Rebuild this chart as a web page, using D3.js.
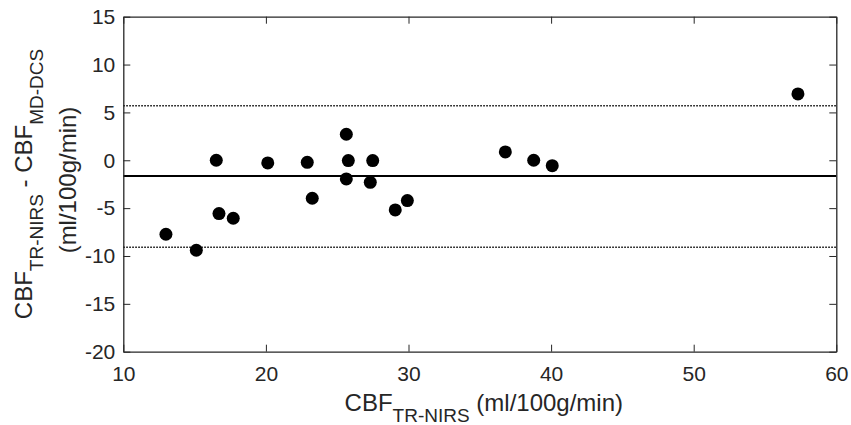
<!DOCTYPE html>
<html>
<head>
<meta charset="utf-8">
<script src="https://cdn.jsdelivr.net/npm/d3@7"></script>
<style>
  html, body { margin: 0; padding: 0; background: #fff; }
  svg { display: block; font-family: "Liberation Sans", Arial, Helvetica, sans-serif; }
</style>
</head>
<body>
<svg id="chart" width="851" height="425"></svg>
<script>
// Data
const cbfTR = [12.99, 15.12, 16.52, 16.71, 17.71, 20.13, 22.90, 23.25, 25.64, 25.78, 25.64, 27.49, 27.32, 29.07, 29.92, 36.79, 38.78, 40.08, 57.31];
const cbfDiff = [-7.73, -9.40, 0.0, -5.57, -6.06, -0.28, -0.21, -3.97, 2.72, -0.03, -1.95, -0.03, -2.30, -5.19, -4.21, 0.87, 0.0, -0.56, 6.93];
const meanDiff = [-1.65];
const limitsOfAgreement = [5.7, -9.1];
const xTicks = [10, 20, 30, 40, 50, 60];
const yTicks = [-20, -15, -10, -5, 0, 5, 10, 15];

const svg = d3.select("#chart");
const mLeft = 123.3, mRight = 836.3, mTop = 16.7, mBottom = 351.7;
const axisColor = "#262626";

const x = d3.scaleLinear().domain([10, 60]).range([mLeft, mRight]);
const y = d3.scaleLinear().domain([-20, 15]).range([mBottom, mTop]);

const tickLen = 7;
const fmt = d => String(d);

// Reference lines
svg.selectAll("line.loa").data(limitsOfAgreement).enter().append("line")
  .attr("class", "loa")
  .attr("x1", x(10)).attr("x2", x(60))
  .attr("y1", d => y(d)).attr("y2", d => y(d))
  .attr("stroke", "#000").attr("stroke-width", 1.5)
  .attr("stroke-dasharray", "1.5,1.5");

svg.selectAll("line.mean").data(meanDiff).enter().append("line")
  .attr("class", "mean")
  .attr("x1", x(10)).attr("x2", x(60))
  .attr("y1", d => y(d)).attr("y2", d => y(d))
  .attr("stroke", "#000").attr("stroke-width", 2);

// Points
svg.selectAll("circle.pt").data(cbfTR).enter().append("circle")
  .attr("class", "pt")
  .attr("cx", d => x(d))
  .attr("cy", (d, i) => y(cbfDiff[i]))
  .attr("r", 6.5)
  .attr("fill", "#000");

// Axes (box with inward ticks)
const gB = svg.append("g").attr("transform", `translate(0,${mBottom})`)
  .call(d3.axisBottom(x).tickValues(xTicks).tickFormat(fmt).tickSizeInner(-tickLen).tickSizeOuter(0).tickPadding(14));
const gT = svg.append("g").attr("transform", `translate(0,${mTop})`)
  .call(d3.axisTop(x).tickValues(xTicks).tickSizeInner(-tickLen).tickSizeOuter(0).tickFormat(""));
const gL = svg.append("g").attr("transform", `translate(${mLeft},0)`)
  .call(d3.axisLeft(y).tickValues(yTicks).tickFormat(fmt).tickSizeInner(-tickLen).tickSizeOuter(0).tickPadding(8));
const gR = svg.append("g").attr("transform", `translate(${mRight},0)`)
  .call(d3.axisRight(y).tickValues(yTicks).tickSizeInner(-tickLen).tickSizeOuter(0).tickFormat(""));

[gB, gT, gL, gR].forEach(g => {
  g.select(".domain").attr("stroke", axisColor).attr("stroke-width", 1.3);
  g.selectAll(".tick line").attr("stroke", axisColor).attr("stroke-width", 1);
  g.selectAll(".tick text").attr("fill", axisColor)
    .style("font-size", "21px")
    .style("font-family", "'Liberation Sans', Arial, Helvetica, sans-serif");
});
gB.selectAll(".tick text").attr("dy", "0.71em");

// X label
const xl = svg.append("text")
  .attr("x", (mLeft + mRight) / 2 + 4)
  .attr("y", 411)
  .attr("text-anchor", "middle")
  .attr("fill", axisColor)
  .style("font-size", "24px");
xl.append("tspan").text("CBF");
xl.append("tspan").attr("dy", 11).style("font-size", "19px").text("TR-NIRS");
xl.append("tspan").attr("dy", -11).text(" (ml/100g/min)");

// Y label (two lines, rotated)
const yl1 = svg.append("text")
  .attr("transform", `translate(32,${184}) rotate(-90)`)
  .attr("text-anchor", "middle")
  .attr("fill", axisColor)
  .style("font-size", "24px");
yl1.append("tspan").text("CBF");
yl1.append("tspan").attr("dy", 11).style("font-size", "19px").text("TR-NIRS");
yl1.append("tspan").attr("dy", -11).text(" - CBF");
yl1.append("tspan").attr("dy", 11).style("font-size", "19px").text("MD-DCS");

svg.append("text")
  .attr("transform", `translate(76,${180}) rotate(-90)`)
  .attr("text-anchor", "middle")
  .attr("fill", axisColor)
  .style("font-size", "24px")
  .text("(ml/100g/min)");
</script>
</body>
</html>
